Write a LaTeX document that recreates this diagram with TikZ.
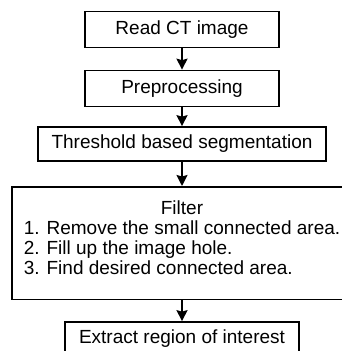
\documentclass[tikz,border=0pt]{standalone}
\usepackage{fontspec}
\setmainfont{Liberation Sans}
\usetikzlibrary{arrows.meta}

\tikzset{
  stage/.style={draw, line width=1.7pt, font=\fontsize{19}{20}\selectfont,
    minimum height=36pt, inner sep=0pt},
  flow/.style={-{Stealth[length=11pt,width=11pt,inset=1.5pt]}, line width=1.7pt}
}

\begin{document}
\begin{tikzpicture}[x=1pt, y=-1pt]
\pgfmathsetmacro{\mx}{182} % centre line of the chain
\useasboundingbox (0,0) rectangle (342,351);
\node[stage, minimum width=194pt] (read) at (\mx, 29.5) {Read CT image};
\node[stage, minimum width=194pt] (pre) at (\mx, 88.5) {Preprocessing};
\node[stage, minimum width=288pt, minimum height=34pt] (thr) at (\mx, 144) {Threshold based segmentation};
\node[stage, anchor=north, inner xsep=12pt, inner ysep=14pt, align=center] (filter) at (\mx, 186)
  {Filter\\
   \begin{tabular}[t]{@{}l@{}}
   1. Remove the small connected area.\\
   2. Fill up the image hole.\\
   3. Find desired connected area.\\[5pt]
   \end{tabular}};
\node[stage, minimum width=234pt, minimum height=34pt] (roi) at (\mx, 339) {Extract region of interest};
\draw[flow] (read) -- (pre);
\draw[flow] (pre) -- (thr);
\draw[flow] (thr) -- (filter);
\draw[flow] (filter) -- (roi);
\end{tikzpicture}
\end{document}
